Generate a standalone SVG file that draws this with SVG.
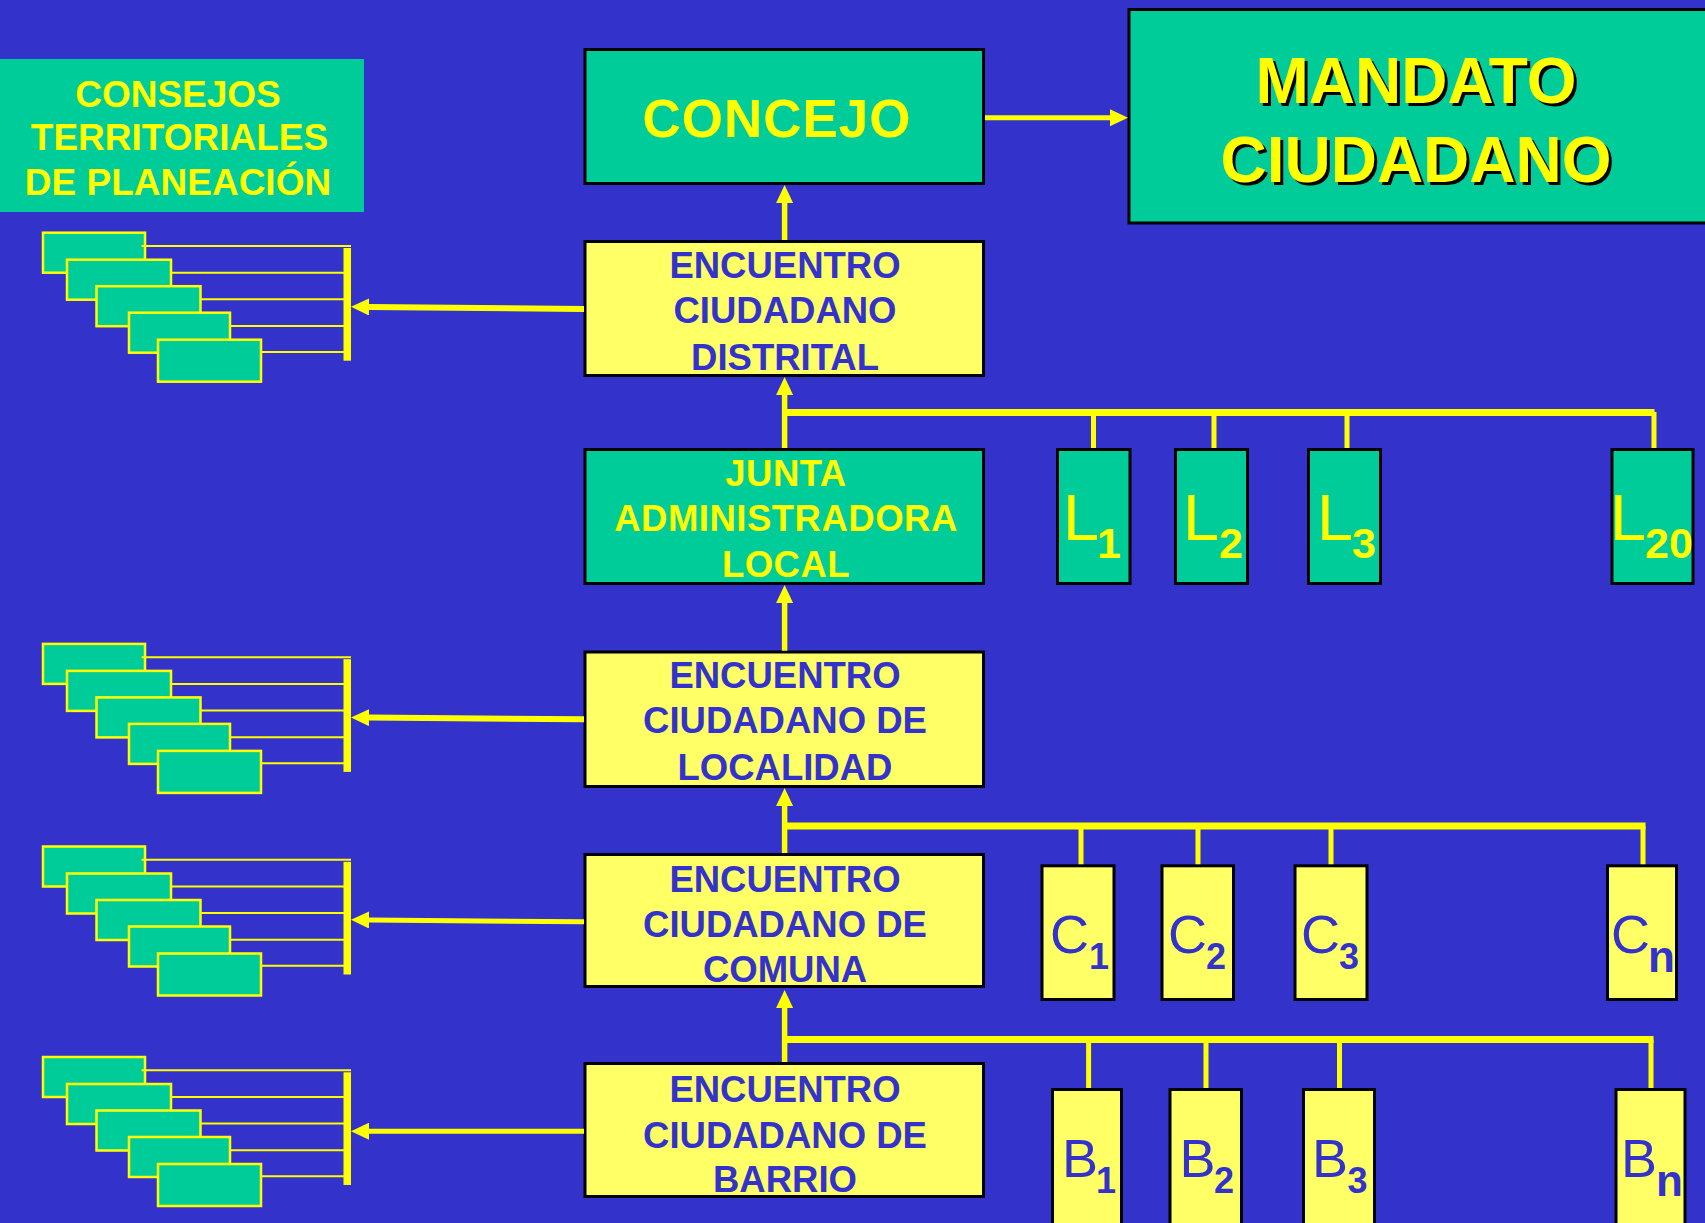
<svg xmlns="http://www.w3.org/2000/svg" width="1705" height="1223" viewBox="0 0 1705 1223">
<style>
.t{font-family:"Liberation Sans",Arial,sans-serif;}
.b{font-weight:bold;}
.teal{fill:#00CC99;stroke:#000;stroke-width:3;}
.yel{fill:#FFFF66;stroke:#000;stroke-width:3;}
.ytxt{fill:#FFFF00;}
.btxt{fill:#3333CC;}
.sub{font-weight:bold;}
.conn{stroke:#FFFF00;fill:none;}
.ctpr{fill:#00CC99;stroke:#FFFF00;stroke-width:2.5;}
.ctpl{stroke:#FFFF00;stroke-width:2;}
</style>
<defs>
<marker id="ah" markerUnits="userSpaceOnUse" markerWidth="18" markerHeight="17" refX="0" refY="8.5" orient="auto">
<path d="M0,0 L18,8.5 L0,17 z" fill="#FFFF00"/>
</marker>
<g id="stack">
<rect class="ctpr" x="43" y="1" width="102" height="40"/>
<rect class="ctpr" x="67" y="28" width="104" height="40"/>
<rect class="ctpr" x="96.5" y="54.5" width="104" height="40"/>
<rect class="ctpr" x="129" y="81" width="101" height="40"/>
<rect class="ctpr" x="158" y="108" width="103" height="42"/>
<line class="ctpl" x1="141.6" y1="14.3" x2="351" y2="14.3"/>
<line class="ctpl" x1="171.5" y1="41" x2="344" y2="41"/>
<line class="ctpl" x1="201" y1="67.6" x2="344" y2="67.6"/>
<line class="ctpl" x1="230.5" y1="94.3" x2="344" y2="94.3"/>
<line class="ctpl" x1="262" y1="120.3" x2="344" y2="120.3"/>
<rect x="343.5" y="16.3" width="7.5" height="112.7" fill="#FFFF00"/>
</g>
</defs>
<rect x="0" y="0" width="1705" height="1223" fill="#3333CC"/>

<g id="consejos">
<rect x="0" y="59" width="364" height="153" fill="#00CC99"/>
<text class="t b ytxt" font-size="37" text-anchor="middle"><tspan x="178" y="106.7">CONSEJOS</tspan><tspan x="179.5" y="150">TERRITORIALES</tspan><tspan x="178" y="195">DE PLANEACIÓN</tspan></text>
</g>

<g id="ctp-1"><use href="#stack" transform="translate(0,231.7)"/></g>
<g id="ctp-2"><use href="#stack" transform="translate(0,642.9)"/></g>
<g id="ctp-3"><use href="#stack" transform="translate(0,845.5)"/></g>
<g id="ctp-4"><use href="#stack" transform="translate(0,1056)"/></g>

<g id="concejo">
<rect class="teal" x="585" y="49.5" width="398.5" height="134"/>
<text class="t b ytxt" font-size="53" text-anchor="middle" x="777" y="137" letter-spacing="1">CONCEJO</text>
</g>

<g id="mandato">
<rect class="teal" x="1129" y="9.5" width="590" height="213.5"/>
<text class="t b" font-size="64" text-anchor="middle" fill="#000"><tspan x="1419" y="106">MANDATO</tspan><tspan x="1419" y="185">CIUDADANO</tspan></text>
<text class="t b ytxt" font-size="64" text-anchor="middle"><tspan x="1416" y="103">MANDATO</tspan><tspan x="1416" y="182">CIUDADANO</tspan></text>
</g>

<g id="ec-distrital">
<rect class="yel" x="585" y="241.5" width="398.5" height="134"/>
<text class="t b btxt" font-size="36.5" text-anchor="middle"><tspan x="785" y="278">ENCUENTRO</tspan><tspan x="785" y="323">CIUDADANO</tspan><tspan x="785" y="370">DISTRITAL</tspan></text>
</g>

<g id="jal">
<rect class="teal" x="585" y="449.5" width="398.5" height="134"/>
<text class="t b ytxt" font-size="36.5" text-anchor="middle" letter-spacing="0.5"><tspan x="786" y="486">JUNTA</tspan><tspan x="786" y="531">ADMINISTRADORA</tspan><tspan x="786" y="577">LOCAL</tspan></text>
</g>

<g id="ec-localidad">
<rect class="yel" x="585" y="652" width="398.5" height="134.5"/>
<text class="t b btxt" font-size="36.5" text-anchor="middle"><tspan x="785" y="688">ENCUENTRO</tspan><tspan x="785" y="733">CIUDADANO DE</tspan><tspan x="785" y="780">LOCALIDAD</tspan></text>
</g>

<g id="ec-comuna">
<rect class="yel" x="585" y="854.5" width="398.5" height="132"/>
<text class="t b btxt" font-size="36.5" text-anchor="middle"><tspan x="785" y="891.7">ENCUENTRO</tspan><tspan x="785" y="936.7">CIUDADANO DE</tspan><tspan x="785" y="981.7">COMUNA</tspan></text>
</g>

<g id="ec-barrio">
<rect class="yel" x="585" y="1063.5" width="398.5" height="133"/>
<text class="t b btxt" font-size="36.5" text-anchor="middle"><tspan x="785" y="1101.7">ENCUENTRO</tspan><tspan x="785" y="1147.7">CIUDADANO DE</tspan><tspan x="785" y="1192">BARRIO</tspan></text>
</g>

<g id="l1"><rect class="teal" x="1057.5" y="449.5" width="72.5" height="134"/><text class="t ytxt" font-size="65" x="1063" y="540">L<tspan class="sub" font-size="43" x="1097" y="558">1</tspan></text></g>
<g id="l2"><rect class="teal" x="1175.5" y="449.5" width="72" height="134"/><text class="t ytxt" font-size="65" x="1183" y="540">L<tspan class="sub" font-size="43" x="1219" y="558">2</tspan></text></g>
<g id="l3"><rect class="teal" x="1308.5" y="449.5" width="72" height="134"/><text class="t ytxt" font-size="65" x="1317" y="540">L<tspan class="sub" font-size="43" x="1352" y="558">3</tspan></text></g>
<g id="l20"><rect class="teal" x="1612" y="449.5" width="81" height="134"/><text class="t ytxt" font-size="65" x="1610" y="540">L<tspan class="sub" font-size="43" x="1645" y="558">20</tspan></text></g>

<g id="c1"><rect class="yel" x="1042" y="865.8" width="72" height="133.7"/><text class="t btxt" font-size="54" x="1050" y="953">C<tspan class="sub" font-size="36" x="1089" y="969">1</tspan></text></g>
<g id="c2"><rect class="yel" x="1162" y="865.8" width="71.5" height="133.7"/><text class="t btxt" font-size="54" x="1168" y="953">C<tspan class="sub" font-size="36" x="1206" y="969">2</tspan></text></g>
<g id="c3"><rect class="yel" x="1295" y="865.8" width="72" height="133.7"/><text class="t btxt" font-size="54" x="1301" y="953">C<tspan class="sub" font-size="36" x="1339" y="969">3</tspan></text></g>
<g id="cn"><rect class="yel" x="1607.5" y="865.8" width="69" height="133.7"/><text class="t btxt" font-size="54" x="1611" y="953">C<tspan class="sub" font-size="44" x="1648" y="972">n</tspan></text></g>

<g id="b1"><rect class="yel" x="1052.5" y="1089.5" width="69" height="150"/><text class="t btxt" font-size="54" x="1062" y="1176.7">B<tspan class="sub" font-size="36" x="1096" y="1192.7">1</tspan></text></g>
<g id="b2"><rect class="yel" x="1170" y="1089.5" width="71.5" height="150"/><text class="t btxt" font-size="54" x="1179.5" y="1176.7">B<tspan class="sub" font-size="36" x="1214" y="1192.7">2</tspan></text></g>
<g id="b3"><rect class="yel" x="1303.5" y="1089.5" width="71" height="150"/><text class="t btxt" font-size="54" x="1312" y="1176.7">B<tspan class="sub" font-size="36" x="1347.5" y="1192.7">3</tspan></text></g>
<g id="bn"><rect class="yel" x="1616" y="1089.5" width="69" height="150"/><text class="t btxt" font-size="54" x="1621" y="1176.7">B<tspan class="sub" font-size="44" x="1656" y="1196">n</tspan></text></g>

<g id="connectors">
<!-- CONCEJO to MANDATO -->
<line class="conn" stroke-width="5" x1="985" y1="117.7" x2="1110" y2="117.7" marker-end="url(#ah)"/>
<!-- vertical chain -->
<line class="conn" stroke-width="5.5" x1="784.6" y1="240" x2="784.6" y2="203" marker-end="url(#ah)"/>
<line class="conn" stroke-width="5.5" x1="784.6" y1="448" x2="784.6" y2="395" marker-end="url(#ah)"/>
<line class="conn" stroke-width="5.5" x1="784.6" y1="650.7" x2="784.6" y2="603" marker-end="url(#ah)"/>
<line class="conn" stroke-width="5.5" x1="784.6" y1="853" x2="784.6" y2="806" marker-end="url(#ah)"/>
<line class="conn" stroke-width="5.5" x1="784.6" y1="1062" x2="784.6" y2="1008" marker-end="url(#ah)"/>
<!-- L bus -->
<path class="conn" stroke-width="7" d="M782,412.5 H1654.5"/>
<path class="conn" stroke-width="5" d="M1093.5,412 V448 M1214,412 V448 M1347,412 V448 M1654,412 V448"/>
<!-- C bus -->
<path class="conn" stroke-width="7" d="M782,826 H1645.5"/>
<path class="conn" stroke-width="5" d="M1081,826 V864.3 M1198,826 V864.3 M1331,826 V864.3 M1643,826 V864.3"/>
<!-- B bus -->
<path class="conn" stroke-width="7" d="M782,1039.5 H1653.5"/>
<path class="conn" stroke-width="5" d="M1088.6,1039.5 V1088 M1206,1039.5 V1088 M1339.5,1039.5 V1088 M1651,1039.5 V1088"/>
<!-- to CTP stacks -->
<line class="conn" stroke-width="6" x1="584" y1="309" x2="369" y2="307" marker-end="url(#ah)"/>
<line class="conn" stroke-width="6" x1="584" y1="719.2" x2="369" y2="717.6" marker-end="url(#ah)"/>
<line class="conn" stroke-width="5" x1="584" y1="921.8" x2="369" y2="920" marker-end="url(#ah)"/>
<line class="conn" stroke-width="5" x1="584" y1="1131.2" x2="369" y2="1131.2" marker-end="url(#ah)"/>
</g>
</svg>
